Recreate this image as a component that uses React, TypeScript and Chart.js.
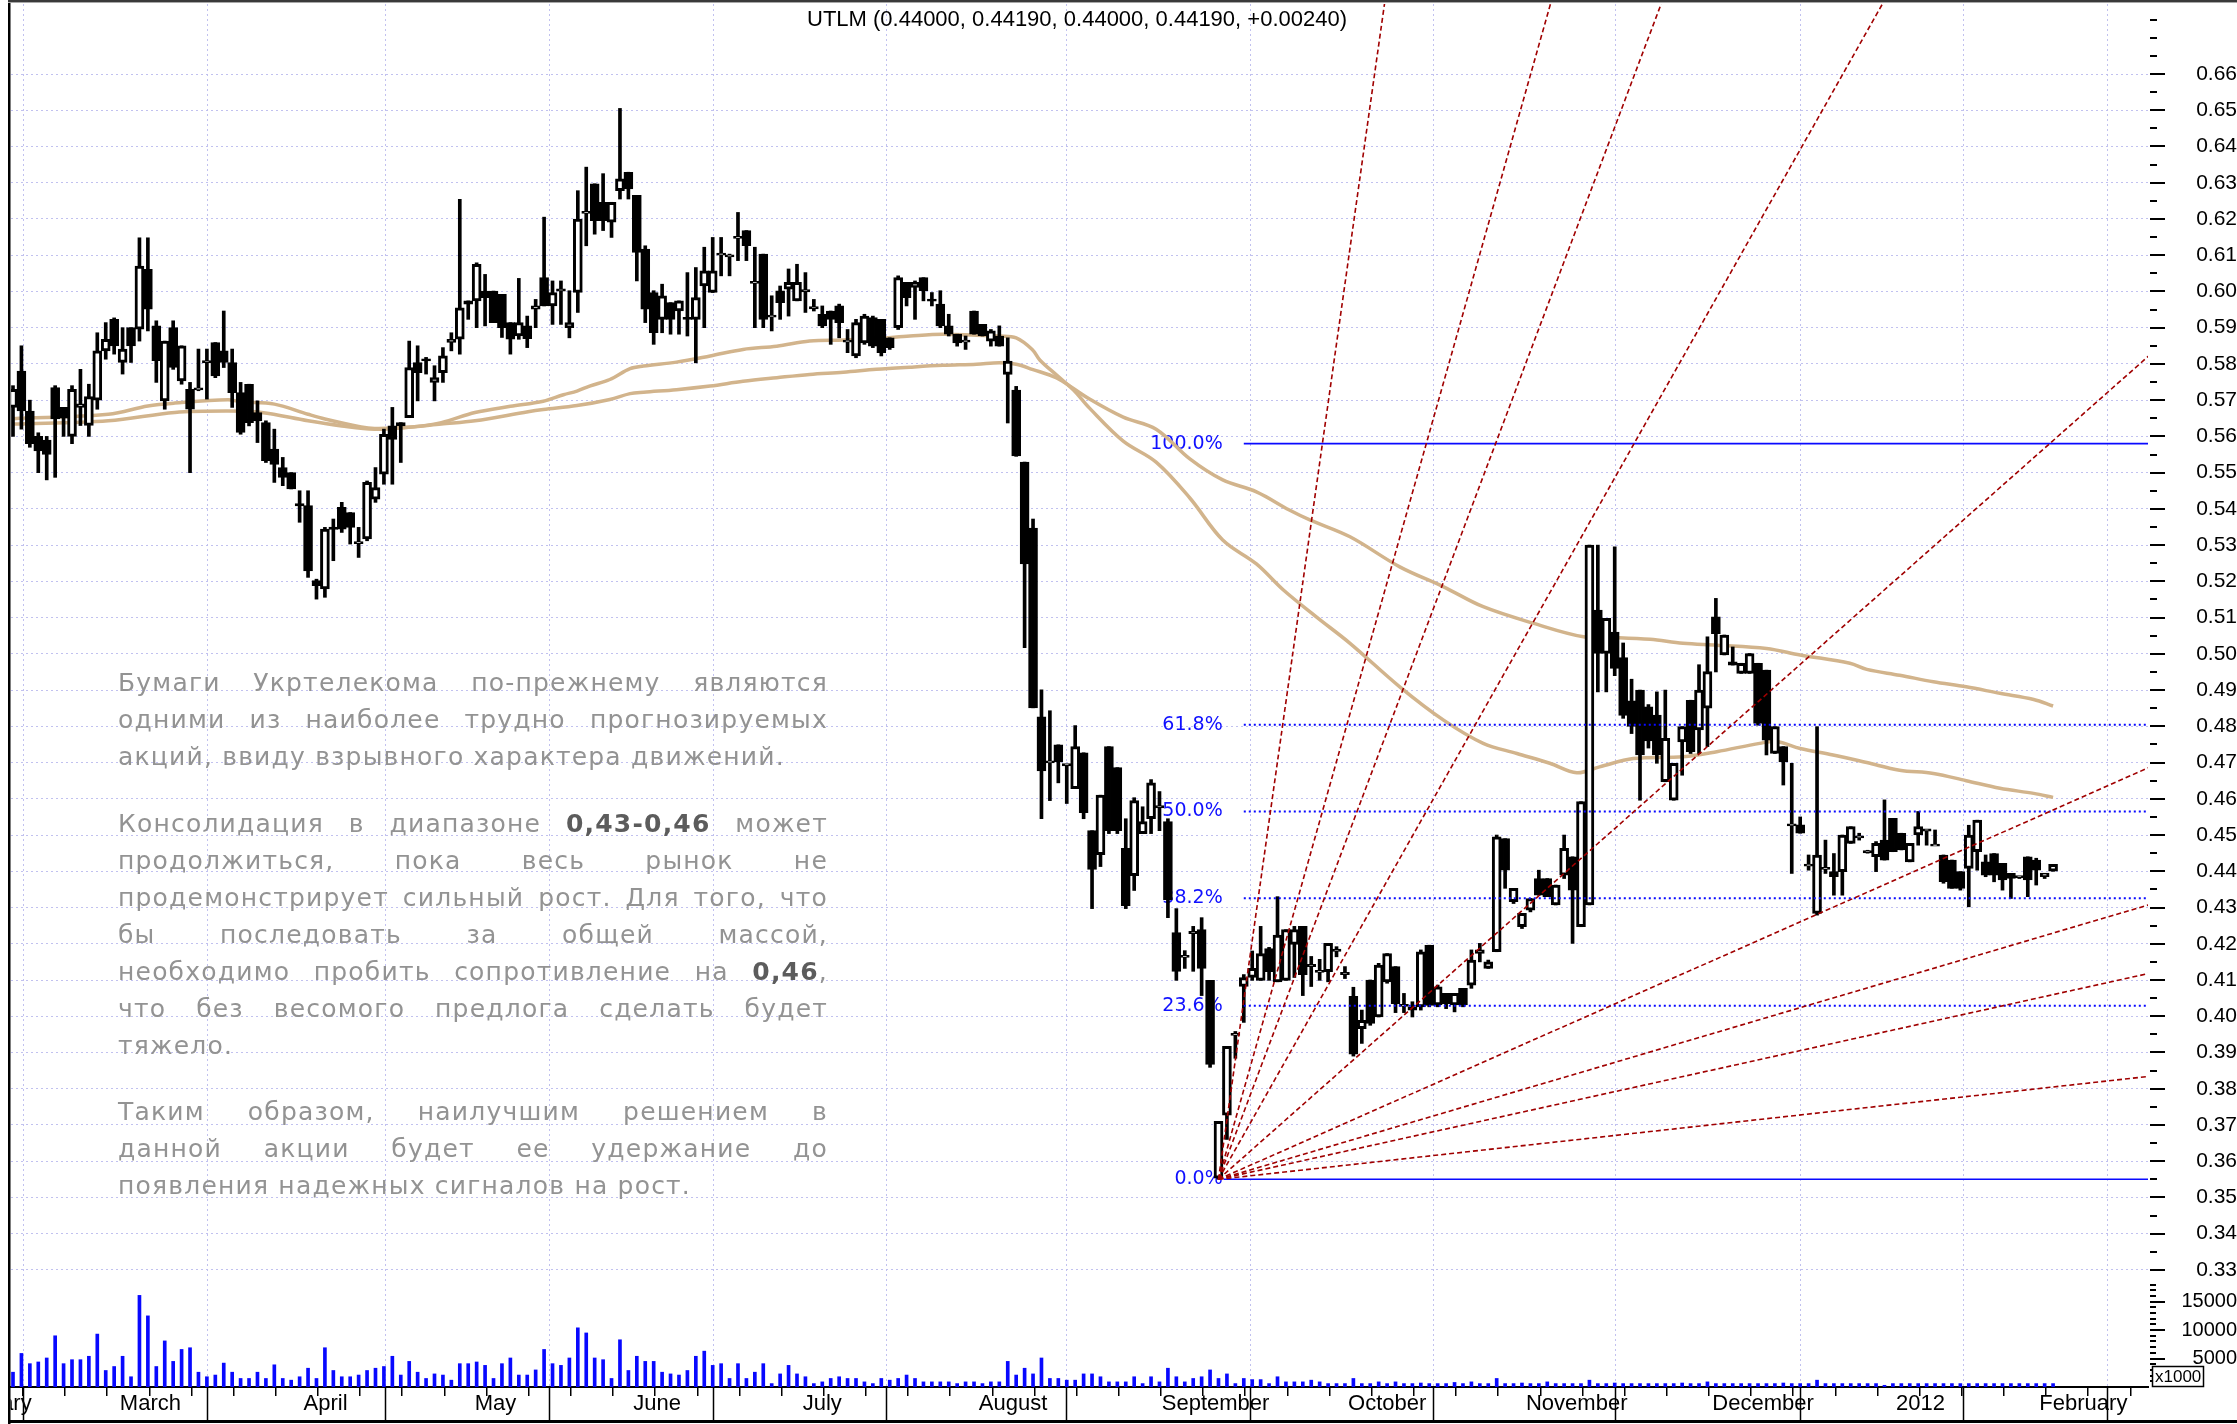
import React, { useEffect, useRef } from 'react';
import { Chart, registerables } from 'chart.js';

Chart.register(...registerables);

// ---------------- data ----------------
const TITLE = 'UTLM (0.44000, 0.44190, 0.44000, 0.44190, +0.00240)';

const OPEN = [
  .568,.578,.567,.560,.559,.5735,.568,.560,.568,.563,
  .570,.5836,.5923,.5804,.590,.5896,.6061,.5905,.5698,.590,
  .5753,.573,.573,.5804,.5859,.5836,.5804,.5721,.5744,.5666,
  .5638,.5565,.5514,.55,.5413,.5409,.5202,.5179,.5349,.5404,
  .539,.5307,.5317,.5427,.5496,.5629,.5638,.5652,.5804,.5813,
  .5749,.5776,.5859,.5868,.5974,.5974,.6001,.6001,.5992,.5914,
  .5877,.5905,.5951,.6038,.596,.6002,.59,.5997,.6218,.6297,
  .6246,.6191,.6278,.6329,.6265,.6117,.5997,.5923,.5969,.5946,
  .5928,.5923,.6015,.5997,.6103,.6098,.6149,.6168,.6025,.6103,
  .5932,.6002,.6006,.5974,.6002,.5955,.5937,.5946,.596,.5863,
  .5822,.5858,.5928,.5923,.5872,.59,.6025,.6011,.6038,.5978,
  .5965,.5905,.5882,.5863,.5946,.5909,.5863,.5877,.5771,.5728,
  .5529,.5347,.4826,.4702,.4749,.4694,.4628,.4727,.4512,.4446,
  .4744,.4686,.4463,.4388,.4504,.4545,.4578,.4537,.4231,.4165,
  .4231,.4239,.4099,.3553,.3727,.395,.4082,.4107,.4099,.4187,
  .4095,.4099,.4198,.4248,.414,.4124,.4123,.4182,.4118,.4055,
  .3966,.41,.3998,.4095,.4137,.403,.4026,.4026,.4196,.4031,
  .4063,.4031,.4077,.4086,.4173,.4132,.4178,.449,.4316,.4247,
  .4293,.438,.438,.4307,.4389,.444,.4247,.4307,.5121,.5001,
  .506,.499,.487,.49,.4854,.4831,.4647,.4596,.4757,.4872,
  .479,.485,.5102,.4997,.4978,.4946,.4946,.4974,.4955,.4725,
  .4744,.4528,.4528,.4417,.4284,.4408,.4399,.4399,.4477,.4495,
  .4454,.444,.4486,.4546,.4505,.4426,.45,.4514,.4472,.4445,
  .4431,.4399,.4408,.4454,.4426,.4449,.4422,.4394,.4385,.444,
  .4431,.4385,.44,
];

const HIGH = [
  .574,.585,.570,.561,.560,.574,.568,.574,.5785,.5744,
  .5886,.5914,.5927,.590,.590,.6148,.6148,.5919,.5863,.5919,
  .585,.5749,.5841,.5841,.5859,.5946,.5841,.5749,.5744,.5698,
  .5643,.562,.5542,.55,.545,.545,.5206,.5349,.5372,.5418,
  .539,.5349,.5477,.5514,.562,.568,.5638,.5863,.585,.5818,
  .5795,.5845,.5886,.6254,.5974,.6079,.6047,.6001,.5992,.5914,
  .6036,.5932,.5978,.6205,.6029,.6029,.6002,.6278,.6343,.6297,
  .6325,.6246,.6505,.6329,.6265,.6126,.6002,.602,.5969,.5974,
  .6052,.6066,.6122,.6149,.6149,.6103,.6218,.6168,.6122,.6103,
  .5988,.6015,.6062,.6075,.6052,.5978,.596,.5946,.5965,.5895,
  .5923,.5937,.5932,.5923,.5872,.6043,.6025,.6029,.6038,.5997,
  .6002,.5937,.5882,.5877,.5946,.5909,.5895,.5905,.5872,.5738,
  .5529,.5372,.4901,.4843,.4749,.4694,.4802,.4727,.4512,.461,
  .4744,.4686,.4545,.4603,.4578,.4653,.462,.4545,.4297,.4181,
  .4248,.4272,.4099,.371,.3917,.3958,.4115,.418,.4248,.419,
  .433,.4239,.4248,.4248,.4165,.4157,.4201,.4192,.4137,.408,
  .4017,.41,.4146,.4173,.4137,.4063,.404,.4183,.4196,.4086,
  .4063,.4063,.4077,.4183,.4201,.4155,.45,.449,.4353,.4284,
  .4325,.4403,.438,.4362,.45,.444,.4592,.53,.53,.5098,
  .5295,.503,.493,.49,.486,.4895,.49,.4698,.4799,.4872,
  .497,.5047,.5153,.5052,.5019,.4974,.5001,.4974,.4955,.4799,
  .4744,.4698,.455,.4445,.4799,.4486,.4449,.45,.4523,.4505,
  .4458,.4482,.4597,.4546,.4505,.4477,.4565,.4514,.4514,.4445,
  .4431,.4399,.4527,.4541,.4445,.4449,.4422,.4394,.4385,.444,
  .4436,.439,.4419,
];

const LOW = [
  .560,.562,.557,.550,.548,.5487,.560,.558,.563,.560,
  .5675,.5813,.5827,.5772,.5804,.5863,.5891,.5749,.5675,.5785,
  .5744,.550,.5726,.5703,.5762,.579,.568,.5606,.5629,.5583,
  .5528,.5473,.5464,.5455,.5363,.5211,.5151,.5156,.5257,.5335,
  .5303,.5266,.5312,.5418,.5468,.5468,.5528,.5652,.5698,.5772,
  .5698,.5749,.5836,.5827,.5923,.59,.5905,.5914,.5873,.5827,
  .5868,.5845,.59,.596,.5909,.5909,.5872,.5942,.6126,.6158,
  .6168,.6149,.6255,.6255,.6029,.5914,.5854,.5886,.5882,.5882,
  .5877,.5803,.59,.5997,.6043,.6043,.6085,.6085,.59,.59,
  .5891,.5923,.5932,.5974,.5942,.5946,.59,.5854,.5872,.5831,
  .5817,.5854,.5845,.5822,.584,.5895,.596,.5923,.5974,.596,
  .59,.5877,.5849,.584,.5882,.5877,.5849,.5849,.5637,.5545,
  .5017,.4851,.4545,.4595,.4644,.4587,.4628,.4545,.4297,.4413,
  .4504,.4504,.4297,.4347,.4504,.4504,.4512,.4272,.4099,.4132,
  .4124,.4057,.3859,.355,.366,.3884,.3983,.4099,.4099,.4099,
  .4095,.4099,.4107,.4057,.4082,.4099,.4095,.4164,.4104,.389,
  .3925,.3975,.3998,.4091,.401,.401,.3998,.4017,.4026,.4026,
  .4021,.4012,.4026,.4077,.415,.4132,.4178,.4353,.4311,.4242,
  .4288,.4334,.433,.4307,.438,.4201,.4247,.4307,.4895,.4895,
  .494,.4822,.478,.4596,.474,.4698,.4647,.4596,.4665,.4725,
  .4725,.4744,.495,.4997,.4969,.4946,.4946,.4803,.4721,.4725,
  .4638,.4394,.4505,.4403,.4279,.4394,.4334,.4334,.4477,.4486,
  .445,.4399,.4431,.4454,.4459,.4426,.4472,.4472,.4472,.4367,
  .4353,.4348,.4302,.4403,.4385,.4371,.4348,.4325,.438,.433,
  .4362,.438,.44,
];

const CLOSE = [
  .573,.567,.558,.556,.555,.5648,.565,.573,.569,.571,
  .5836,.5868,.585,.5841,.585,.607,.5951,.5809,.5863,.579,
  .585,.5675,.5732,.5808,.5767,.5804,.5721,.5611,.5638,.5643,
  .5533,.5523,.5487,.5455,.541,.5229,.5188,.5344,.5344,.5344,
  .5349,.5307,.5473,.5459,.5606,.5592,.5629,.579,.5776,.5809,
  .5762,.5822,.5868,.5955,.5965,.6075,.5983,.5914,.59,.5868,
  .5914,.587,.596,.596,.5997,.6006,.5914,.62,.6218,.6195,
  .6195,.6246,.6311,.6283,.6108,.5951,.5886,.5988,.5923,.5974,
  .5923,.5983,.6057,.6057,.6103,.6098,.6149,.6126,.6025,.5923,
  .5932,.5969,.6025,.6025,.6002,.5955,.5905,.5923,.5914,.5863,
  .5914,.5932,.5849,.5831,.5845,.6038,.5983,.6025,.6002,.5974,
  .5905,.5882,.5858,.5863,.5882,.5878,.5891,.5849,.5808,.5546,
  .5248,.4851,.4677,.4702,.4702,.4694,.4744,.4562,.4405,.461,
  .4512,.4512,.4305,.4595,.4537,.4644,.4578,.4322,.4124,.4165,
  .4231,.4132,.3867,.371,.3917,.395,.4107,.4132,.4173,.4123,
  .4224,.4239,.4239,.4115,.414,.4124,.4201,.4182,.4118,.3895,
  .3989,.398,.4141,.4173,.4035,.403,.4017,.4178,.403,.4081,
  .4035,.4063,.4031,.4155,.4183,.415,.4495,.4403,.4353,.4284,
  .4325,.4334,.433,.4362,.4463,.4348,.4592,.53,.5001,.5098,
  .496,.483,.48,.4721,.476,.4721,.4767,.4698,.4799,.473,
  .49,.4951,.5056,.5052,.4969,.4974,.5001,.4808,.4762,.4799,
  .4702,.4528,.4505,.4417,.4445,.4408,.4385,.45,.4523,.4495,
  .4454,.4477,.4431,.4454,.4459,.4477,.4523,.4514,.4472,.4371,
  .4353,.4353,.45,.4541,.4389,.4389,.4376,.438,.4385,.4376,
  .4403,.4395,.4419,
];

// volume, in axis units (x1000)
const VOLUME = [
  2600,5900,4100,4400,5100,9000,4100,4800,4800,5400,
  9300,2900,3600,5400,1800,16100,12500,3600,8100,4500,
  6600,6900,2600,1800,2100,4200,2600,1500,1500,2600,
  1500,3900,1500,1200,1800,3300,1500,6900,2900,1800,
  1800,2100,2900,3300,3600,5400,2100,4500,2600,1500,
  2300,2100,1200,4100,4100,4400,3800,1500,4100,5100,
  2100,2100,3000,6600,4100,3800,5100,10400,9500,5100,
  4800,1500,8300,2900,5400,4500,4500,2600,2300,2100,
  2900,5400,6300,3800,4100,1500,4100,1500,2600,4100,
  600,2300,3800,2300,1800,600,900,1500,1800,1500,
  1500,900,600,1500,1200,1500,2100,1500,900,900,
  900,900,600,900,900,600,900,900,4500,2100,
  3300,2300,5100,1500,1500,1200,1200,2300,2300,1800,
  900,900,900,1800,600,1800,900,3300,1800,900,
  1500,1800,3000,1500,2300,600,1500,1300,1300,600,
  1800,900,900,900,1200,900,600,600,600,1500,
  600,600,900,600,900,600,600,700,600,600,
  600,800,600,900,600,600,1500,600,600,700,
  600,600,900,600,600,600,600,1200,600,600,
  700,600,600,600,600,600,600,600,700,600,
  600,900,600,600,600,600,600,600,600,600,
  700,600,600,600,1200,600,600,600,600,600,
  600,600,300,600,600,600,600,600,600,600,
  600,600,600,600,600,600,600,600,600,600,
  600,600,600,
];

// moving averages (candle index, price)
const MA_FAST_X = [0,11.3,16,19.2,25.5,27.1,31,35,37,41.3,42.9,46.9,50.8,54.8,59,62.9,65.3,66.9,68.4,70.8,73.2,74.8,78.7,82.7,86.6,90.6,94.5,98.5,102.4,106.4,110.3,114.3,117,119,120.9,121.8,123.8,125.8,127.7,131.7,135.6,139.6,143.5,147.5,150.7,154.6,158.6,164.5,169.7,174.4,178.4,182.3,185.5,188.2,192.2,198.1,202.1,207.2,209.2,212,215.9,219.9,223.8,227.8,231.7,235.7,239.7,242];
const MA_FAST_Y = [.5649,.5661,.5684,.5692,.5701,.5695,.5689,.5661,.5648,.5626,.5622,.5625,.5638,.5666,.5683,.5697,.5715,.5725,.5739,.5757,.5787,.5794,.5805,.5822,.584,.5849,.5863,.5866,.587,.5877,.5882,.5879,.5877,.5872,.584,.5811,.5769,.5728,.5678,.5587,.5529,.543,.5314,.5248,.5176,.5102,.5029,.4909,.4817,.4753,.4725,.4698,.4672,.4688,.4711,.4716,.473,.4753,.4758,.4739,.4721,.47,.4679,.467,.465,.4629,.4615,.4604];
const MA_SLOW_X = [0,11.3,19.2,25.5,29.5,35,39,42.9,46.9,50.8,54.8,61.1,62.9,66.9,70.8,73.2,74.8,78.7,82.7,86.6,90.6,94.5,98.5,102.4,106.4,110.3,114.3,117,119,120.9,123.8,127.7,131.7,135.6,139.6,143.5,147.5,151.4,153.9,158.6,164.5,169.7,174.4,180.4,186.3,190.2,194.2,198.1,202.1,208,212,217.9,219.9,223.8,227.8,231.7,235.7,239.7,242];
const MA_SLOW_Y = [.5634,.5643,.5666,.567,.5666,.5643,.5629,.562,.5625,.5634,.5643,.5668,.5674,.5685,.5702,.5718,.5722,.5729,.5739,.5752,.5762,.5771,.5777,.5785,.5791,.5796,.5799,.5803,.5799,.5785,.5761,.5703,.5653,.562,.5538,.548,.5447,.5397,.5369,.5323,.524,.5185,.513,.5084,.5047,.5045,.504,.5029,.5024,.5015,.4997,.4974,.4957,.4941,.4923,.4909,.4891,.4874,.4856];

// month axis (position = candle index where the month starts)
const MONTH_LABELS = ['March','April','May','June','July','August','September','October','November','December','2012','February'];
const MONTH_START_IDX = [12.2,34.0,54.3,73.1,93.2,114.1,135.8,157.9,179.0,201.1,222.9,239.9];
const PREV_MONTH_LABEL = 'February';
const PREV_MONTH_IDX = -8.7;

// Fibonacci retracement
const FIB_LOW = 0.355;
const FIB_HIGH = 0.558;
const FIB_PCTS = [0, 23.6, 38.2, 50, 61.8, 100];
const FIB_LINE_START = 146.0;
const FIB_ZERO_START = 143.6;
const FIB_LABEL_IDX = 143.5;

// Gann fan
const FAN_X0 = 143;
const FAN_Y0 = 0.355;
const FAN_UNIT = 0.002059;
const FAN_RATIOS = [8, 4, 3, 2, 1, 1 / 2, 1 / 3, 1 / 4, 1 / 8];

// annotation text
const NOTE_PARAGRAPHS = [
  ['Бумаги Укртелекома по-прежнему являются', 'одними из наиболее трудно прогнозируемых', 'акций, ввиду взрывного характера движений.'],
  ['Консолидация в диапазоне **0,43-0,46** может', 'продолжиться, пока весь рынок не', 'продемонстрирует сильный рост. Для того, что', 'бы последовать за общей массой,', 'необходимо пробить сопротивление на **0,46**,', 'что без весомого предлога сделать будет', 'тяжело.'],
  ['Таким образом, наилучшим решением в', 'данной акции будет ее удержание до', 'появления надежных сигналов на рост.'],
];

// ---------------- layout constants ----------------
const PAGE_W = 2237;
const PAGE_H = 1424;
const CANVAS_LEFT = 8;
const CW = PAGE_W - CANVAS_LEFT;
const X_MIN = -0.237;
const X_MAX = 253.26;
// price axis calibration: 0.66 sits at y=74 px, 0.01 spans 36.24 px
const PRICE_REF = 0.66;
const PRICE_REF_PX = 74;
const PX_PER_PRICE = 3624;
// volume axis: 1000 units span 5.69 px
const PX_PER_VOL = 0.00569;
const GRID_COLOR = 'rgba(190,190,238,0.95)';
const FONT = '"Liberation Sans", Arial, Helvetica, sans-serif';

const fibValue = (p: number) => FIB_LOW + (p / 100) * (FIB_HIGH - FIB_LOW);
const priceAt = (py: number) => PRICE_REF - (py - PRICE_REF_PX) / PX_PER_PRICE;

const decoPlugin = {
  id: 'deco',
  beforeDatasetsDraw(chart: any) {
    const { ctx } = chart;
    const xs = chart.scales.x;
    const ys = chart.scales.y;
    ctx.save();
    ctx.font = '19px "DejaVu Sans", Verdana, sans-serif';
    ctx.fillStyle = '#1010ff';
    ctx.textAlign = 'right';
    ctx.textBaseline = 'middle';
    const lx = xs.getPixelForValue(FIB_LABEL_IDX);
    FIB_PCTS.forEach((p) => {
      ctx.fillText(p.toFixed(1) + '%', lx, ys.getPixelForValue(fibValue(p)));
    });
    ctx.restore();
  },
  afterDraw(chart: any) {
    const { ctx, chartArea: ca } = chart;
    const xs = chart.scales.x;
    const ys = chart.scales.y;
    const yv = chart.scales.yv;
    ctx.save();
    ctx.fillStyle = '#000';
    // price axis tick marks
    for (const t of ys.ticks) {
      const k = Math.round(t.value * 1000);
      const major = k % 10 === 0 && k <= 660;
      const py = Math.round(ys.getPixelForValue(t.value));
      if (py < 3) continue;
      ctx.fillRect(ca.right + 2, py - 1, major ? 15 : 7, 2);
    }
    // volume axis tick marks
    for (const t of yv.ticks) {
      const major = t.value % 5000 === 0;
      const py = Math.round(yv.getPixelForValue(t.value));
      ctx.fillRect(ca.right + 2, py - 1, major ? 15 : 6, 2);
    }
    // weekly ticks below the time axis
    for (let w = 1.2; w <= xs.max; w += 5) {
      const px = xs.getPixelForValue(w);
      ctx.fillRect(Math.round(px) - 1, ca.bottom, 1.5, 9);
    }
    // label of the month that started before the visible range (clipped by the frame)
    ctx.save();
    ctx.beginPath();
    ctx.rect(2.5, ca.bottom, 200, 40);
    ctx.clip();
    ctx.font = '22px ' + FONT;
    ctx.fillStyle = '#000';
    ctx.textAlign = 'left';
    ctx.textBaseline = 'middle';
    ctx.fillText(PREV_MONTH_LABEL, xs.getPixelForValue(PREV_MONTH_IDX) + 4, ca.bottom + 17);
    ctx.restore();
    // frame
    ctx.fillStyle = '#000';
    ctx.fillRect(0, 0, 2.5, chart.height);
    ctx.fillStyle = '#3a3a3a';
    ctx.fillRect(0, 0, chart.width, 2);
    ctx.fillStyle = '#a8a8a8';
    ctx.fillRect(0, 2, chart.width, 1);
    ctx.fillStyle = '#000';
    ctx.fillRect(0, 1420, chart.width, 3);
    // title
    ctx.font = '22px ' + FONT;
    ctx.fillStyle = '#000';
    ctx.textAlign = 'center';
    ctx.textBaseline = 'middle';
    ctx.fillText(TITLE, 1077 - CANVAS_LEFT, 20);
    // x1000 box
    const bx = ca.right + 4;
    ctx.fillStyle = '#fff';
    ctx.fillRect(bx, 1366, 51, 20);
    ctx.strokeStyle = '#000';
    ctx.lineWidth = 1.5;
    ctx.strokeRect(bx + 0.5, 1366.5, 51, 20);
    ctx.fillStyle = '#000';
    ctx.font = '17px ' + FONT;
    ctx.textAlign = 'left';
    ctx.fillText('x1000', bx + 3, 1377);
    ctx.restore();
  },
};

function renderRich(text: string) {
  const parts = text.split('**');
  return parts.map((p, i) =>
    i % 2 === 1 ? (
      <b key={i} style={{ fontWeight: 700, color: '#5c5c5c' }}>{p}</b>
    ) : (
      <span key={i}>{p}</span>
    ),
  );
}

export default function App() {
  const ref = useRef<HTMLCanvasElement | null>(null);

  useEffect(() => {
    document.body.style.margin = '0';
    const canvas = ref.current;
    if (!canvas) return;
    const n = Math.min(OPEN.length, HIGH.length, LOW.length, CLOSE.length, VOLUME.length);
    const ids = Array.from({ length: n }, (_, i) => i);

    const wickData = ids.map((i) => ({ x: i, y: [LOW[i], HIGH[i]] }));
    const bodyData = ids.map((i) => {
      let lo = Math.min(OPEN[i], CLOSE[i]);
      let hi = Math.max(OPEN[i], CLOSE[i]);
      if (hi - lo < 0.0006) {
        const m = (hi + lo) / 2;
        lo = m - 0.0003;
        hi = m + 0.0003;
      }
      return { x: i, y: [lo, hi] };
    });
    const bodyFill = ids.map((i) => (CLOSE[i] >= OPEN[i] ? '#ffffff' : '#000000'));
    const volData = ids.map((i) => ({ x: i, y: VOLUME[i] }));

    const fibSets = FIB_PCTS.map((p) => {
      const v = fibValue(p);
      const solid = p === 0 || p === 100;
      return {
        type: 'line',
        data: [
          { x: p === 0 ? FIB_ZERO_START : FIB_LINE_START, y: v },
          { x: X_MAX + 5, y: v },
        ],
        borderColor: '#0a0aff',
        borderWidth: solid ? 1.6 : 2,
        borderDash: solid ? [] : [2, 3],
        pointRadius: 0,
        yAxisID: 'y',
        order: 1,
      };
    });
    const span = 120;
    const fanSets = FAN_RATIOS.map((r) => ({
      type: 'line',
      data: [
        { x: FAN_X0, y: FAN_Y0 },
        { x: FAN_X0 + span, y: FAN_Y0 + r * FAN_UNIT * span },
      ],
      borderColor: '#a00000',
      borderWidth: 1.6,
      borderDash: [5, 3],
      pointRadius: 0,
      yAxisID: 'y',
      order: 0,
    }));

    const maSet = (xs: number[], ys: number[]) => ({
      type: 'line',
      data: xs.map((x, k) => ({ x, y: ys[k] })),
      borderColor: '#d2b48c',
      borderWidth: 3.5,
      pointRadius: 0,
      tension: 0.35,
      yAxisID: 'y',
      order: 5,
    });

    const chart = new Chart(canvas, {
      type: 'bar',
      data: {
        datasets: [
          ...fanSets,
          ...fibSets,
          {
            type: 'bar',
            data: bodyData,
            backgroundColor: bodyFill,
            borderColor: '#000',
            borderWidth: 3,
            borderSkipped: false,
            barThickness: 9,
            grouped: false,
            yAxisID: 'y',
            order: 2,
          },
          {
            type: 'bar',
            data: wickData,
            backgroundColor: '#000',
            borderWidth: 0,
            barThickness: 3,
            grouped: false,
            yAxisID: 'y',
            order: 3,
          },
          {
            type: 'bar',
            data: volData,
            backgroundColor: '#0808ff',
            borderWidth: 0,
            barThickness: 3,
            grouped: false,
            yAxisID: 'yv',
            order: 4,
          },
          maSet(MA_SLOW_X, MA_SLOW_Y),
          maSet(MA_FAST_X, MA_FAST_Y),
        ] as any,
      },
      options: {
        animation: false,
        responsive: false,
        maintainAspectRatio: false,
        devicePixelRatio: 1,
        events: [],
        layout: { padding: { left: 3, top: 4, right: 0, bottom: 4 } },
        plugins: {
          legend: { display: false },
          tooltip: { enabled: false },
          title: { display: false },
        },
        scales: {
          x: {
            type: 'linear',
            position: 'bottom',
            min: X_MIN,
            max: X_MAX,
            offset: false,
            afterBuildTicks: (s: any) => {
              s.ticks = MONTH_START_IDX.map((v) => ({ value: v }));
            },
            afterFit: (s: any) => {
              s.height = 33;
            },
            ticks: {
              autoSkip: false,
              maxRotation: 0,
              minRotation: 0,
              align: 'start',
              labelOffset: 4,
              padding: -29,
              color: '#000',
              font: { family: FONT, size: 22 },
              callback: (_v: any, i: number) => MONTH_LABELS[i],
            },
            grid: {
              color: GRID_COLOR,
              lineWidth: 1,
              drawTicks: true,
              tickLength: 33,
              tickColor: '#000',
              tickWidth: 1.5,
            },
            border: { display: true, color: '#000', width: 2, dash: [2, 3] },
          },
          y: {
            type: 'linear',
            position: 'right',
            stack: 'right',
            stackWeight: 1276,
            min: priceAt(1280),
            max: priceAt(4),
            afterBuildTicks: (s: any) => {
              const t = [];
              for (let k = 330; k <= 675; k += 5) t.push({ value: k / 1000 });
              s.ticks = t;
            },
            afterFit: (s: any) => {
              s.width = 89;
            },
            ticks: {
              autoSkip: false,
              crossAlign: 'far',
              padding: 4,
              color: '#000',
              font: { family: FONT, size: 21 },
              callback: (v: any) => {
                const k = Math.round(Number(v) * 1000);
                return k % 10 === 0 && k <= 660 ? (k / 1000).toFixed(2) : [];
              },
            },
            grid: {
              drawTicks: true,
              tickLength: 39,
              tickColor: 'rgba(0,0,0,0)',
              lineWidth: 1,
              color: (c: any) => {
                const k = c.tick ? Math.round(c.tick.value * 1000) : 1;
                return k % 10 === 0 && k <= 660 ? GRID_COLOR : 'rgba(0,0,0,0)';
              },
            },
            border: { display: false, dash: [2, 3] },
          },
          yv: {
            type: 'linear',
            position: 'right',
            stack: 'right',
            stackWeight: 107,
            min: 0,
            max: 107 / PX_PER_VOL,
            afterBuildTicks: (s: any) => {
              const t = [];
              for (let k = 1; k <= 18; k++) t.push({ value: k * 1000 });
              s.ticks = t;
            },
            afterFit: (s: any) => {
              s.width = 89;
            },
            ticks: {
              autoSkip: false,
              crossAlign: 'far',
              padding: 4,
              color: '#000',
              font: { family: FONT, size: 20 },
              callback: (v: any) => (Number(v) % 5000 === 0 ? String(v) : []),
            },
            grid: {
              drawTicks: true,
              tickLength: 24,
              tickColor: 'rgba(0,0,0,0)',
              drawOnChartArea: false,
              color: 'rgba(0,0,0,0)',
            },
            border: { display: false },
          },
        },
      } as any,
      plugins: [decoPlugin],
    });

    // re-calibrate the value ranges to the pixel regions actually given by the layout
    const ys: any = chart.scales.y;
    const yv: any = chart.scales.yv;
    const opts: any = chart.options.scales;
    opts.y.max = priceAt(ys.top);
    opts.y.min = priceAt(ys.bottom);
    opts.yv.max = (yv.bottom - yv.top) / PX_PER_VOL;
    chart.update('none');

    return () => chart.destroy();
  }, []);

  return (
    <div style={{ position: 'absolute', left: 0, top: 0, width: PAGE_W, height: PAGE_H, background: '#fff', overflow: 'hidden' }}>
      <canvas
        ref={ref}
        width={CW}
        height={PAGE_H}
        style={{ position: 'absolute', left: CANVAS_LEFT, top: 0, width: CW, height: PAGE_H }}
      />
      <div
        style={{
          position: 'absolute',
          left: 118,
          top: 664,
          width: 710,
          fontFamily: '"DejaVu Sans", "Noto Sans", sans-serif',
          fontSize: 25,
          letterSpacing: '1.2px',
          lineHeight: '37px',
          color: '#939393',
        }}
      >
        {NOTE_PARAGRAPHS.map((para, pi) => (
          <div key={pi} style={{ marginBottom: 29.5 }}>
            {para.map((line, li) => {
              const last = li === para.length - 1;
              if (last) {
                return (
                  <div key={li} style={{ height: 37, whiteSpace: 'nowrap' }}>
                    {renderRich(line)}
                  </div>
                );
              }
              return (
                <div
                  key={li}
                  style={{ height: 37, display: 'flex', justifyContent: 'space-between', whiteSpace: 'nowrap' }}
                >
                  {line.split(' ').map((w, wi) => (
                    <span key={wi}>{renderRich(w)}</span>
                  ))}
                </div>
              );
            })}
          </div>
        ))}
      </div>
    </div>
  );
}
